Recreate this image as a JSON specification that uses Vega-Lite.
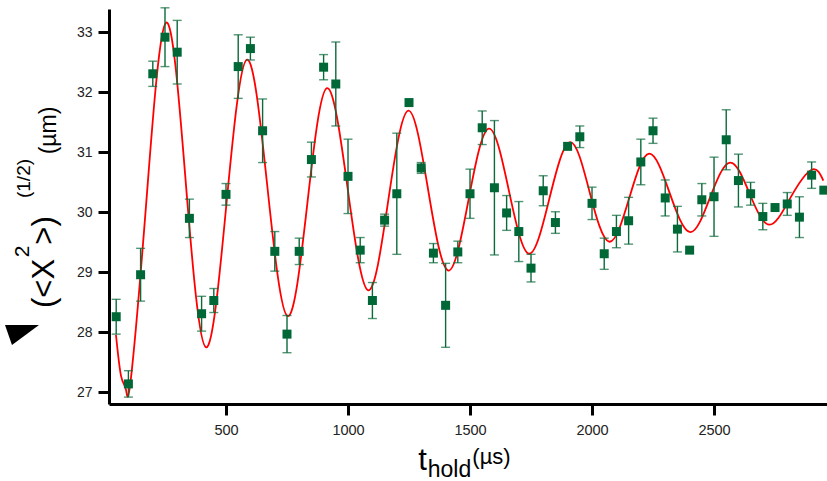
{
  "$schema": "https://vega.github.io/schema/vega-lite/v6.json",
  "width": 718,
  "height": 395,
  "autosize": {"type": "none"},
  "padding": {"left": 109, "top": 9, "right": 0, "bottom": 77},
  "background": "white",
  "config": {
    "view": {"stroke": null},
    "font": "Liberation Sans",
    "axis": {"grid": false, "titleFontWeight": "normal", "titleColor": "#000", "titleFont": "Liberation Sans", "labelFont": "Liberation Sans"}
  },
  "datasets": {
    "points": [
      {"t": 50, "v": 28.26, "e": 0.29},
      {"t": 100, "v": 27.14, "e": 0.22},
      {"t": 150, "v": 28.96, "e": 0.44},
      {"t": 200, "v": 32.31, "e": 0.21},
      {"t": 250, "v": 32.92, "e": 0.49},
      {"t": 300, "v": 32.67, "e": 0.53},
      {"t": 350, "v": 29.90, "e": 0.32},
      {"t": 400, "v": 28.31, "e": 0.29},
      {"t": 450, "v": 28.53, "e": 0.20},
      {"t": 500, "v": 30.30, "e": 0.18},
      {"t": 550, "v": 32.43, "e": 0.53},
      {"t": 600, "v": 32.73, "e": 0.19},
      {"t": 650, "v": 31.36, "e": 0.53},
      {"t": 700, "v": 29.35, "e": 0.33},
      {"t": 750, "v": 27.97, "e": 0.31},
      {"t": 800, "v": 29.35, "e": 0.22},
      {"t": 850, "v": 30.88, "e": 0.29},
      {"t": 900, "v": 32.42, "e": 0.21},
      {"t": 950, "v": 32.14, "e": 0.70},
      {"t": 1000, "v": 30.60, "e": 0.62},
      {"t": 1050, "v": 29.37, "e": 0.21},
      {"t": 1100, "v": 28.53, "e": 0.30},
      {"t": 1150, "v": 29.87, "e": 0.10},
      {"t": 1200, "v": 30.31, "e": 1.01},
      {"t": 1250, "v": 31.83, "e": 0},
      {"t": 1300, "v": 30.74, "e": 0.09},
      {"t": 1350, "v": 29.32, "e": 0.16},
      {"t": 1400, "v": 28.45, "e": 0.70},
      {"t": 1450, "v": 29.34, "e": 0.18},
      {"t": 1500, "v": 30.31, "e": 0.41},
      {"t": 1550, "v": 31.41, "e": 0.28},
      {"t": 1600, "v": 30.41, "e": 1.12},
      {"t": 1650, "v": 29.99, "e": 0.29},
      {"t": 1700, "v": 29.68, "e": 0.50},
      {"t": 1750, "v": 29.07, "e": 0.23},
      {"t": 1800, "v": 30.36, "e": 0.25},
      {"t": 1850, "v": 29.83, "e": 0.18},
      {"t": 1900, "v": 31.10, "e": 0},
      {"t": 1950, "v": 31.26, "e": 0.18},
      {"t": 2000, "v": 30.15, "e": 0.27},
      {"t": 2050, "v": 29.31, "e": 0.26},
      {"t": 2100, "v": 29.68, "e": 0.27},
      {"t": 2150, "v": 29.86, "e": 0.39},
      {"t": 2200, "v": 30.84, "e": 0.38},
      {"t": 2250, "v": 31.36, "e": 0.21},
      {"t": 2300, "v": 30.24, "e": 0.30},
      {"t": 2350, "v": 29.72, "e": 0.38},
      {"t": 2400, "v": 29.37, "e": 0},
      {"t": 2450, "v": 30.21, "e": 0.27},
      {"t": 2500, "v": 30.26, "e": 0.66},
      {"t": 2550, "v": 31.21, "e": 0.50},
      {"t": 2600, "v": 30.53, "e": 0.44},
      {"t": 2650, "v": 30.31, "e": 0.19},
      {"t": 2700, "v": 29.93, "e": 0.22},
      {"t": 2750, "v": 30.08, "e": 0},
      {"t": 2800, "v": 30.14, "e": 0.19},
      {"t": 2850, "v": 29.92, "e": 0.34},
      {"t": 2900, "v": 30.62, "e": 0.22},
      {"t": 2950, "v": 30.37, "e": 0}
    ],
    "fit": [
      {"t": 49, "v": 27.96},
      {"t": 70, "v": 27.27},
      {"t": 90, "v": 27.045},
      {"t": 110, "v": 27.22},
      {"t": 172, "v": 30.10},
      {"t": 254, "v": 33.16},
      {"t": 336, "v": 30.455},
      {"t": 418, "v": 27.75},
      {"t": 502, "v": 30.15},
      {"t": 586, "v": 32.545},
      {"t": 670, "v": 30.41},
      {"t": 753, "v": 28.27},
      {"t": 834, "v": 30.17},
      {"t": 914, "v": 32.07},
      {"t": 999, "v": 30.385},
      {"t": 1083, "v": 28.70},
      {"t": 1165, "v": 30.20},
      {"t": 1247, "v": 31.695},
      {"t": 1329, "v": 30.36},
      {"t": 1411, "v": 29.03},
      {"t": 1494, "v": 30.21},
      {"t": 1577, "v": 31.395},
      {"t": 1660, "v": 30.35},
      {"t": 1742, "v": 29.31},
      {"t": 1826, "v": 30.24},
      {"t": 1910, "v": 31.17},
      {"t": 1990, "v": 30.34},
      {"t": 2071, "v": 29.51},
      {"t": 2153, "v": 30.245},
      {"t": 2234, "v": 30.98},
      {"t": 2318, "v": 30.325},
      {"t": 2402, "v": 29.67},
      {"t": 2484, "v": 30.25},
      {"t": 2566, "v": 30.83},
      {"t": 2646, "v": 30.31},
      {"t": 2727, "v": 29.795},
      {"t": 2814, "v": 30.25},
      {"t": 2900, "v": 30.71},
      {"t": 2948, "v": 30.53}
    ]
  },
  "layer": [
    {
      "data": {"name": "fit"},
      "mark": {"type": "line", "color": "#ff0000", "strokeWidth": 1.8, "interpolate": "natural"},
      "encoding": {
        "x": {
          "field": "t", "type": "quantitative",
          "scale": {"domain": [20.5, 2963], "nice": false, "zero": false},
          "axis": {
            "orient": "bottom",
            "values": [500, 1000, 1500, 2000, 2500],
            "format": "d",
            "domainColor": "#000", "domainWidth": 3,
            "tickColor": "#000", "tickWidth": 3, "tickSize": 11,
            "labelFontSize": 14.5, "labelColor": "#222", "labelPadding": 8,
            "title": "t", "titleFontSize": 31,
            "titleX": 313, "titleY": 65, "titleAlign": "center", "titleBaseline": "alphabetic", "titleAngle": 0
          }
        },
        "y": {
          "field": "v", "type": "quantitative",
          "scale": {"domain": [26.805, 33.39], "nice": false, "zero": false},
          "axis": {
            "orient": "left",
            "values": [27, 28, 29, 30, 31, 32, 33],
            "format": "d",
            "domainColor": "#000", "domainWidth": 3,
            "tickColor": "#000", "tickWidth": 3, "tickSize": 11,
            "labelFontSize": 14, "labelColor": "#222", "labelPadding": 6,
            "title": "(<X", "titleFontSize": 31,
            "titleX": -56, "titleY": 274, "titleAlign": "center", "titleBaseline": "alphabetic", "titleAngle": 270
          }
        }
      }
    },
    {
      "data": {"name": "points"},
      "transform": [{"filter": "datum.e > 0"}],
      "mark": {"type": "errorbar", "ticks": {"size": 9}, "thickness": 1.4, "color": "#0b6a3b"},
      "encoding": {
        "x": {
          "field": "t", "type": "quantitative",
          "scale": {"domain": [20.5, 2963], "nice": false, "zero": false},
          "axis": {
            "orient": "bottom", "labels": false, "ticks": false, "domain": false,
            "title": "hold", "titleFontSize": 23,
            "titleX": 340, "titleY": 72, "titleAlign": "center", "titleBaseline": "alphabetic", "titleAngle": 0
          }
        },
        "y": {
          "field": "v", "type": "quantitative",
          "scale": {"domain": [26.805, 33.39], "nice": false, "zero": false},
          "axis": {
            "orient": "left", "labels": false, "ticks": false, "domain": false,
            "title": "2", "titleFontSize": 21,
            "titleX": -81, "titleY": 242, "titleAlign": "center", "titleBaseline": "alphabetic", "titleAngle": 270
          }
        },
        "yError": {"field": "e"}
      }
    },
    {
      "data": {"name": "points"},
      "transform": [{"filter": "datum.e > 0"}],
      "mark": {"type": "point", "shape": "square", "size": 81, "filled": true, "opacity": 1, "color": "#006837"},
      "encoding": {
        "x": {
          "field": "t", "type": "quantitative",
          "scale": {"domain": [20.5, 2963], "nice": false, "zero": false},
          "axis": {
            "orient": "bottom", "labels": false, "ticks": false, "domain": false,
            "title": "(µs)", "titleFontSize": 22,
            "titleX": 382, "titleY": 59, "titleAlign": "center", "titleBaseline": "alphabetic", "titleAngle": 0
          }
        },
        "y": {
          "field": "v", "type": "quantitative",
          "scale": {"domain": [26.805, 33.39], "nice": false, "zero": false},
          "axis": {
            "orient": "left", "labels": false, "ticks": false, "domain": false,
            "title": ">)", "titleFontSize": 31,
            "titleX": -56, "titleY": 221, "titleAlign": "center", "titleBaseline": "alphabetic", "titleAngle": 270
          }
        }
      }
    },
    {
      "data": {"name": "points"},
      "transform": [{"filter": "datum.e == 0"}],
      "mark": {"type": "point", "shape": "square", "size": 81, "filled": true, "opacity": 1, "color": "#006837"},
      "encoding": {
        "x": {
          "field": "t", "type": "quantitative",
          "scale": {"domain": [20.5, 2963], "nice": false, "zero": false},
          "axis": {
            "orient": "bottom", "labels": false, "ticks": false, "domain": false,
            "title": "(1/2)", "titleFontSize": 19,
            "titleX": -80, "titleY": -226, "titleAlign": "center", "titleBaseline": "alphabetic", "titleAngle": 270
          }
        },
        "y": {
          "field": "v", "type": "quantitative",
          "scale": {"domain": [26.805, 33.39], "nice": false, "zero": false},
          "axis": {
            "orient": "left", "labels": false, "ticks": false, "domain": false,
            "title": "(µm)", "titleFontSize": 23,
            "titleX": -54, "titleY": 121, "titleAlign": "center", "titleBaseline": "alphabetic", "titleAngle": 270
          }
        }
      }
    },
    {
      "data": {"values": [{}]},
      "mark": {"type": "point", "shape": "M -1 -0.59 L 1 -0.59 L -0.59 0.59 Z", "filled": true, "color": "#000", "opacity": 1, "size": 1156, "clip": false},
      "encoding": {
        "x": {"datum": -336, "type": "quantitative", "scale": {"domain": [20.5, 2963], "nice": false, "zero": false}, "axis": null},
        "y": {"datum": 27.955, "type": "quantitative", "scale": {"domain": [26.805, 33.39], "nice": false, "zero": false}, "axis": null}
      }
    }
  ],
  "resolve": {"scale": {"x": "shared", "y": "shared"}, "axis": {"x": "independent", "y": "independent"}}
}
